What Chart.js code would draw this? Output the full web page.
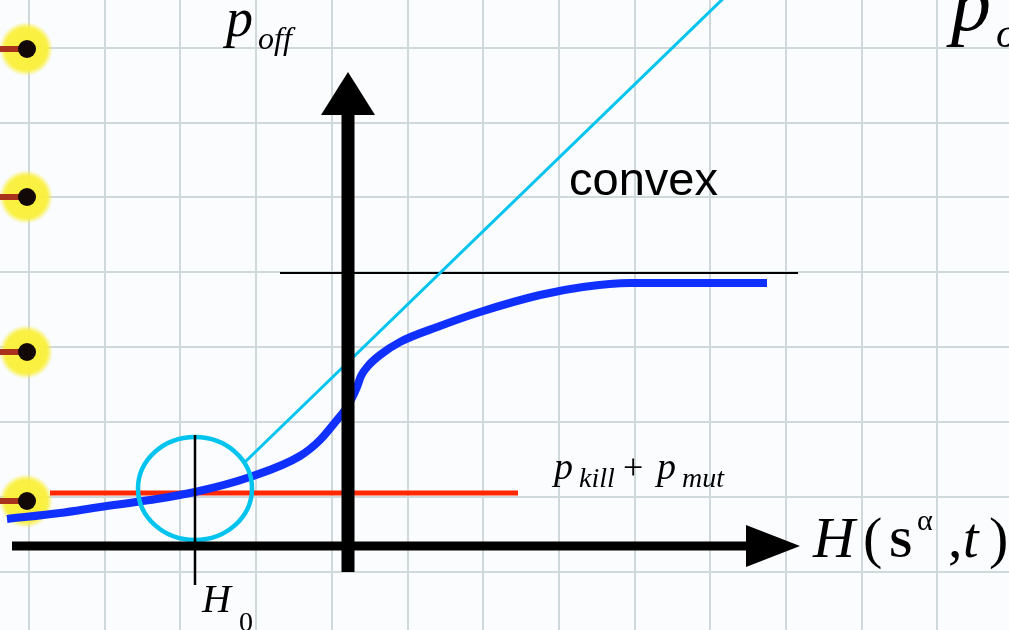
<!DOCTYPE html>
<html>
<head>
<meta charset="utf-8">
<script src="https://cdn.jsdelivr.net/npm/chart.js@4.4.1/dist/chart.umd.min.js"></script>
<style>
  html, body { margin: 0; padding: 0; background: #fafcfd; overflow: hidden; }
  #wrap { width: 1009px; height: 630px; }
  canvas { display: block; }
</style>
</head>
<body>
<div id="wrap"><canvas id="c" width="1009" height="630"></canvas></div>
<script>
// Offspring probability p_off as a function of the fitness H(S^alpha, t).
// Units: H and p measured from the crossing of the two axes.
const curveH = [-3.41, -2.88, -2.48, -1.98, -1.53, -0.98, -0.48, -0.28, -0.11, -0.03, 0.04, 0.09, 0.13, 0.20, 0.32, 0.52, 0.92, 1.32, 1.92, 2.35, 2.82, 4.19];
const curveP = [0.27, 0.33, 0.39, 0.46, 0.54, 0.69, 0.90, 1.06, 1.26, 1.36, 1.48, 1.59, 1.70, 1.80, 1.91, 2.04, 2.20, 2.34, 2.51, 2.59, 2.63, 2.63];

// p_kill + p_mut threshold level
const thresholdH = [-2.98, 1.70];
const thresholdP = [0.53, 0.53];

// Saturation level of p_off
const plateauH = [-0.68, 4.50];
const plateauP = [2.73, 2.73];

// Linear (convex) extrapolation from the operating point
const tangentH = [-1.03, 3.83];
const tangentP = [0.84, 5.55];

// Operating point H0 and its highlight
const h0 = -1.53;
const h0TickP = [1.11, -0.39];
const focusCenter = { x: -1.53, y: 0.575 };
const focusRadius = { x: 0.57, y: 0.515 };

// Axes of the diagram
const axisHSpan = [-3.36, 4.00];
const axisHTip = 4.52;
const axisPSpan = [-0.26, 4.33];
const axisPTip = 4.74;

// Graph-paper lines
const paperH = [-3.19, -2.43, -1.68, -0.92, -0.16, 0.60, 1.35, 2.11, 2.87, 3.62, 4.38, 5.14, 5.89, 6.65];
const paperP = [4.98, 4.23, 3.49, 2.74, 1.99, 1.24, 0.49, -0.26];

const pts = (xs, ys) => xs.map((x, i) => ({ x, y: ys[i] }));

const paper = {
  id: 'paper',
  beforeDraw(chart) {
    const { ctx, width, height } = chart;
    const sx = chart.scales.x, sy = chart.scales.y;
    ctx.save();
    ctx.fillStyle = '#fafcfd';
    ctx.fillRect(0, 0, width, height);
    ctx.strokeStyle = '#cfd9dc';
    ctx.lineWidth = 2;
    paperH.forEach(v => {
      const px = Math.round(sx.getPixelForValue(v));
      ctx.beginPath(); ctx.moveTo(px, 0); ctx.lineTo(px, height); ctx.stroke();
    });
    paperP.forEach(v => {
      const py = Math.round(sy.getPixelForValue(v));
      ctx.beginPath(); ctx.moveTo(0, py); ctx.lineTo(width, py); ctx.stroke();
    });
    // binder rings along the left edge
    [49, 197, 352, 501].forEach(y => {
      const g = ctx.createRadialGradient(26, y, 6, 26, y, 27);
      g.addColorStop(0, 'rgba(250,240,60,1)');
      g.addColorStop(0.72, 'rgba(250,240,60,0.95)');
      g.addColorStop(1, 'rgba(250,240,60,0)');
      ctx.fillStyle = g;
      ctx.beginPath(); ctx.arc(26, y, 27, 0, Math.PI * 2); ctx.fill();
      ctx.strokeStyle = '#a8321c';
      ctx.lineWidth = 6;
      ctx.beginPath(); ctx.moveTo(0, y); ctx.lineTo(24, y); ctx.stroke();
      ctx.fillStyle = '#120808';
      ctx.beginPath(); ctx.arc(27, y, 9, 0, Math.PI * 2); ctx.fill();
    });
    ctx.restore();
  }
};

const overlays = {
  id: 'overlays',
  afterDatasetDraw(chart, args) {
    const ds = chart.data.datasets[args.index];
    const { ctx } = chart;
    const sx = chart.scales.x, sy = chart.scales.y;
    ctx.save();
    if (ds.label === 'tangent') {
      const cx = sx.getPixelForValue(focusCenter.x), cy = sy.getPixelForValue(focusCenter.y);
      const rx = Math.abs(sx.getPixelForValue(focusCenter.x + focusRadius.x) - cx);
      const ry = Math.abs(sy.getPixelForValue(focusCenter.y + focusRadius.y) - cy);
      ctx.strokeStyle = '#00c4ee';
      ctx.lineWidth = 4.5;
      ctx.beginPath(); ctx.ellipse(cx, cy, rx, ry, 0, 0, Math.PI * 2); ctx.stroke();
    }
    if (ds.label === 'axisH') {
      const base = sx.getPixelForValue(axisHSpan[1] - 0.02), tip = sx.getPixelForValue(axisHTip);
      const y = sy.getPixelForValue(0);
      ctx.fillStyle = '#000';
      ctx.beginPath(); ctx.moveTo(base, y - 21); ctx.lineTo(tip, y); ctx.lineTo(base, y + 21); ctx.closePath(); ctx.fill();
    }
    if (ds.label === 'axisP') {
      const base = sy.getPixelForValue(axisPSpan[1] - 0.02), tip = sy.getPixelForValue(axisPTip);
      const x = sx.getPixelForValue(0);
      ctx.fillStyle = '#000';
      ctx.beginPath(); ctx.moveTo(x - 27, base); ctx.lineTo(x, tip); ctx.lineTo(x + 27, base); ctx.closePath(); ctx.fill();
    }
    ctx.restore();
  },
  afterDraw(chart) {
    const { ctx } = chart;
    ctx.save();
    ctx.fillStyle = '#000';
    ctx.textBaseline = 'alphabetic';
    ctx.textAlign = 'left';
    const serif = '"Liberation Serif", "DejaVu Serif", serif';
    const t = (s, font, x, y) => { ctx.font = font; ctx.fillText(s, x, y); };

    // p_off (vertical axis)
    t('p', 'italic 54px ' + serif, 226, 36);
    t('off', 'italic 32px ' + serif, 258, 49);

    // p_off (title, running off the right edge)
    t('p', 'italic 80px ' + serif, 951, 30);
    t('off', 'italic 42px ' + serif, 996, 47);

    // convex
    t('convex', '47px "Liberation Sans", Arial, sans-serif', 569, 195);

    // p_kill + p_mut
    t('p', 'italic 38px ' + serif, 554, 479);
    t('kill', 'italic 28px ' + serif, 579, 487);
    t('+', '36px ' + serif, 623, 479);
    t('p', 'italic 38px ' + serif, 657, 479);
    t('mut', 'italic 28px ' + serif, 682, 487);

    // H(S^alpha, t)
    t('H', 'italic 58px ' + serif, 813, 557);
    t('(', '58px ' + serif, 863, 557);
    t('S', 'bold 42px ' + serif, 889, 557);
    t('\u03b1', '30px ' + serif, 917, 530);
    t(',', '58px ' + serif, 948, 557);
    t('t', 'italic 56px ' + serif, 963, 557);
    t(')', '58px ' + serif, 989, 557);

    // H_0
    t('H', 'italic 40px ' + serif, 202, 612);
    t('0', '28px ' + serif, 239, 631);
    ctx.restore();
  }
};

const line = (label, xs, ys, color, width, order, extra) => Object.assign({
  label, data: pts(xs, ys), showLine: true, borderColor: color, borderWidth: width,
  pointRadius: 0, fill: false, tension: 0, order, borderCapStyle: 'butt'
}, extra || {});

new Chart(document.getElementById('c'), {
  type: 'scatter',
  data: {
    datasets: [
      line('plateau', plateauH, plateauP, '#000000', 2, 8),
      line('threshold', thresholdH, thresholdP, '#ff2800', 5, 7),
      line('pOff', curveH, curveP, '#1030ff', 8, 6, { cubicInterpolationMode: 'monotone' }),
      line('tangent', tangentH, tangentP, '#00c4ee', 3, 5),
      line('h0', [h0, h0], h0TickP, '#000000', 2.5, 4),
      line('axisH', axisHSpan, [0, 0], '#000000', 9, 3),
      line('axisP', [0, 0], axisPSpan, '#000000', 13, 2)
    ]
  },
  options: {
    responsive: false,
    animation: false,
    devicePixelRatio: 1,
    layout: { padding: 0 },
    plugins: { legend: { display: false }, tooltip: { enabled: false } },
    scales: {
      x: { type: 'linear', min: -3.48, max: 6.61, display: false },
      y: { type: 'linear', min: -0.84, max: 5.46, display: false }
    }
  },
  plugins: [paper, overlays]
});
</script>
</body>
</html>
